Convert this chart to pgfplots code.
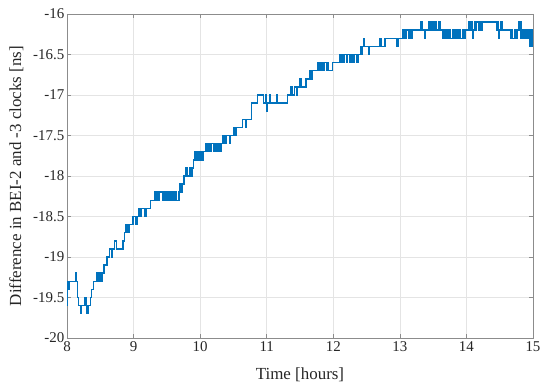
\documentclass[border=0pt]{standalone}
\usepackage{pgfplots}
\pgfplotsset{compat=1.18}
\usepackage{fontspec}
\setmainfont{Liberation Serif}
\definecolor{mblue}{RGB}{0,114,189}
\definecolor{mtext}{RGB}{38,38,38}
\definecolor{mgrid}{RGB}{228,228,228}
\definecolor{maxis}{RGB}{140,140,140}
\begin{document}
\begin{tikzpicture}
\useasboundingbox (-67bp,-47bp) rectangle (483bp,338bp);
\begin{axis}[
  at={(0,0)}, anchor=south west,
  scale only axis, width=466bp, height=324bp,
  xmin=8, xmax=15, ymin=-20, ymax=-16,
  xtick={8,9,...,15},
  ytick={-20,-19.5,-19,-18.5,-18,-17.5,-17,-16.5,-16},
  yticklabels={-20,-19.5,-19,-18.5,-18,-17.5,-17,-16.5,-16},
  xticklabels={8,9,10,11,12,13,14,15},
  grid=major,
  major grid style={mgrid, line width=0.5bp},
  axis line style={maxis, line width=0.6bp},
  tick style={maxis, line width=0.6bp},
  tick align=inside, major tick length=4bp,
  ticklabel style={font=\fontsize{15}{17}\selectfont, text=mtext},
  yticklabel style={inner sep=2.5bp},
  every axis y label/.style={at={(axis description cs:-0.109,0.5)},rotate=90,anchor=center,font=\fontsize{17}{19}\selectfont,text=mtext},
  every axis x label/.style={at={(axis description cs:0.5,-0.114)},anchor=center,font=\fontsize{17}{19}\selectfont,text=mtext},
  xlabel={Time [hours]},
  ylabel={Difference in BEI-2 and -3 clocks [ns]},
  clip=true,
]
\addplot[mblue, line width=1.5bp, const plot] table {
x y
8.000 -19.6
8.010 -19.4
8.015 -19.3
8.030 -19.4
8.040 -19.3
8.135 -19.2
8.145 -19.3
8.155 -19.5
8.170 -19.6
8.200 -19.7
8.220 -19.6
8.270 -19.5
8.285 -19.6
8.300 -19.7
8.320 -19.6
8.350 -19.5
8.370 -19.4
8.395 -19.3
8.440 -19.2
8.450 -19.3
8.460 -19.2
8.475 -19.3
8.485 -19.2
8.500 -19.3
8.510 -19.2
8.530 -19.3
8.535 -19.2
8.555 -19.1
8.600 -19.0
8.640 -18.9
8.665 -19.0
8.680 -18.9
8.715 -18.8
8.740 -18.9
8.840 -18.8
8.865 -18.7
8.885 -18.6
8.895 -18.7
8.905 -18.6
8.915 -18.7
8.930 -18.6
8.990 -18.5
9.040 -18.6
9.060 -18.5
9.080 -18.4
9.110 -18.5
9.120 -18.4
9.175 -18.5
9.190 -18.4
9.255 -18.3
9.320 -18.2
9.340 -18.3
9.350 -18.2
9.370 -18.3
9.380 -18.2
9.440 -18.3
9.450 -18.2
9.470 -18.3
9.480 -18.2
9.500 -18.3
9.510 -18.2
9.530 -18.3
9.545 -18.2
9.580 -18.3
9.590 -18.2
9.600 -18.3
9.620 -18.2
9.640 -18.3
9.680 -18.2
9.700 -18.1
9.720 -18.2
9.730 -18.1
9.760 -18.0
9.790 -17.9
9.810 -18.0
9.840 -17.9
9.850 -18.0
9.860 -17.9
9.870 -18.0
9.885 -17.9
9.900 -17.8
9.915 -17.7
9.930 -17.8
9.945 -17.7
9.960 -17.8
9.975 -17.7
9.990 -17.8
10.005 -17.7
10.030 -17.8
10.045 -17.7
10.080 -17.6
10.095 -17.7
10.110 -17.6
10.130 -17.7
10.140 -17.6
10.160 -17.7
10.170 -17.6
10.200 -17.7
10.215 -17.6
10.240 -17.7
10.250 -17.6
10.270 -17.7
10.285 -17.6
10.310 -17.7
10.320 -17.6
10.340 -17.5
10.370 -17.6
10.385 -17.5
10.440 -17.6
10.455 -17.5
10.500 -17.4
10.520 -17.5
10.535 -17.4
10.640 -17.3
10.680 -17.4
10.700 -17.3
10.770 -17.1
10.860 -17.0
10.950 -17.1
10.990 -17.0
11.000 -17.2
11.010 -17.1
11.040 -17.0
11.050 -17.1
11.150 -17.0
11.165 -17.1
11.310 -17.0
11.355 -16.9
11.365 -17.0
11.380 -16.9
11.390 -17.0
11.420 -16.9
11.445 -17.0
11.455 -16.9
11.500 -16.8
11.515 -16.9
11.590 -16.8
11.640 -16.7
11.655 -16.8
11.665 -16.7
11.680 -16.8
11.690 -16.7
11.770 -16.6
11.790 -16.7
11.800 -16.6
11.820 -16.7
11.830 -16.6
11.860 -16.7
11.870 -16.6
11.900 -16.7
11.910 -16.6
11.930 -16.7
11.985 -16.6
12.100 -16.5
12.120 -16.6
12.130 -16.5
12.160 -16.6
12.170 -16.5
12.200 -16.6
12.210 -16.5
12.240 -16.6
12.250 -16.5
12.280 -16.6
12.290 -16.5
12.310 -16.6
12.320 -16.5
12.360 -16.6
12.375 -16.5
12.410 -16.4
12.430 -16.5
12.440 -16.4
12.460 -16.3
12.470 -16.4
12.530 -16.5
12.540 -16.4
12.700 -16.3
12.715 -16.4
12.780 -16.3
12.960 -16.4
12.970 -16.3
13.040 -16.2
13.055 -16.3
13.070 -16.2
13.090 -16.3
13.100 -16.2
13.130 -16.3
13.140 -16.2
13.170 -16.3
13.180 -16.2
13.320 -16.1
13.330 -16.2
13.370 -16.3
13.380 -16.2
13.440 -16.1
13.450 -16.2
13.470 -16.1
13.480 -16.2
13.500 -16.1
13.510 -16.2
13.530 -16.1
13.540 -16.2
13.590 -16.1
13.600 -16.2
13.640 -16.3
13.660 -16.2
13.670 -16.3
13.690 -16.2
13.700 -16.3
13.720 -16.2
13.730 -16.3
13.750 -16.2
13.760 -16.3
13.790 -16.2
13.800 -16.3
13.820 -16.2
13.830 -16.3
13.860 -16.2
13.870 -16.3
13.900 -16.2
13.910 -16.3
13.940 -16.2
13.960 -16.3
13.975 -16.2
14.030 -16.1
14.045 -16.2
14.060 -16.1
14.080 -16.2
14.090 -16.3
14.100 -16.2
14.120 -16.1
14.140 -16.2
14.150 -16.1
14.180 -16.2
14.190 -16.1
14.220 -16.2
14.240 -16.1
14.450 -16.2
14.470 -16.1
14.480 -16.2
14.490 -16.3
14.500 -16.2
14.510 -16.1
14.520 -16.2
14.530 -16.1
14.545 -16.2
14.660 -16.3
14.675 -16.2
14.690 -16.3
14.720 -16.2
14.730 -16.3
14.760 -16.2
14.780 -16.1
14.790 -16.2
14.810 -16.1
14.820 -16.3
14.840 -16.2
14.860 -16.3
14.880 -16.2
14.900 -16.3
14.910 -16.2
14.930 -16.3
14.945 -16.4
14.955 -16.2
14.965 -16.3
14.975 -16.4
14.985 -16.2
14.995 -16.3
15.000 -16.3
};
\end{axis}
\end{tikzpicture}
\end{document}
